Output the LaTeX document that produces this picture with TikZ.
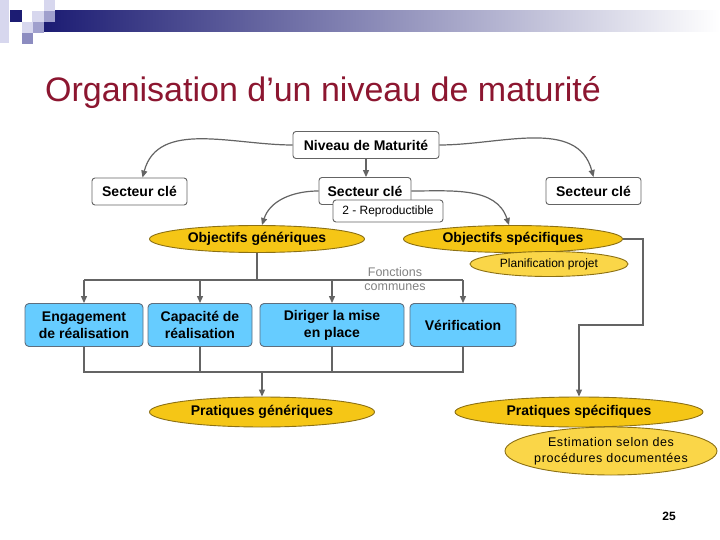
\documentclass[tikz,border=0pt]{standalone}
\usepackage{fontspec}
\setmainfont{Liberation Sans}
\newfontfamily\spacedfont[LetterSpace=5]{Liberation Sans}
\usetikzlibrary{shapes.geometric,arrows.meta}
\definecolor{navy}{RGB}{28,28,115}
\definecolor{sqlight}{RGB}{215,215,238}
\definecolor{sqmid}{RGB}{160,160,205}
\definecolor{titlered}{RGB}{140,22,48}
\definecolor{gold}{RGB}{245,198,22}
\definecolor{goldlight}{RGB}{250,214,72}
\definecolor{goldborder}{RGB}{140,112,20}
\definecolor{skyblue}{RGB}{102,204,255}
\definecolor{boxborder}{RGB}{95,110,125}
\definecolor{connc}{RGB}{100,100,100}
\begin{document}
\begin{tikzpicture}[x=1pt,y=-1pt,
  whitebox/.style={draw=connc,fill=white,rounded corners=3pt,line width=0.9pt,
    inner sep=0pt,font=\fontsize{14}{16}\selectfont\bfseries},
  bluebox/.style={draw=boxborder,fill=skyblue,rounded corners=4pt,line width=0.9pt,
    inner sep=0pt,minimum height=43pt,align=center,font=\fontsize{14}{17}\selectfont\bfseries},
  goldell/.style={ellipse,draw=goldborder,fill=gold,line width=0.9pt,inner sep=0pt,
    font=\fontsize{14}{16}\selectfont\bfseries},
  lightell/.style={ellipse,draw=goldborder,fill=goldlight,line width=0.9pt,inner sep=0pt,
    align=center,font=\fontsize{12.5}{16}\selectfont},
  conn/.style={draw=connc,line width=1.2pt},
  arr/.style={conn,-{Triangle[length=7pt,width=6pt]}}
]
\useasboundingbox (0,0) rectangle (720,540);
\fill[white] (0,0) rectangle (720,540);
% header
\shade[left color=navy,right color=white] (44,11) rectangle (720,32);
\fill[sqlight] (0,0) rectangle (9,43);
\fill[navy] (10,10) rectangle (22,22);
\fill[sqlight] (44,0) rectangle (55,11);
\fill[sqlight] (32,11) rectangle (44,22);
\fill[sqmid] (44,11) rectangle (55,22);
\fill[sqlight] (22,22) rectangle (33,33);
\fill[sqmid] (33,22) rectangle (44,33);
\fill[sqmid!85!navy] (22,33) rectangle (33,44);
% title
\node[anchor=base west,inner sep=0pt,text=titlered,font=\fontsize{34}{36}\selectfont] (title) at (45,102) {Organisation d’un niveau de maturité};
% top boxes
\node[whitebox,minimum width=146pt,minimum height=27pt] (niv) at (366,145) {Niveau de Maturité};
\node[whitebox,minimum width=95pt,minimum height=27pt] (sl) at (139.5,191.5) {Secteur clé};
\node[whitebox,minimum width=92pt,minimum height=27pt] (sm) at (365,191) {Secteur clé};
\node[whitebox,minimum width=95pt,minimum height=27pt] (sr) at (593.5,191) {Secteur clé};
\node[whitebox,minimum width=110pt,minimum height=22pt,font=\fontsize{12}{14}\selectfont] (rep) at (388,211) {2 - Reproductible};
% objectives
\node[goldell,minimum width=215pt,minimum height=27pt] (og) at (257,239) {Objectifs génériques};
\node[goldell,minimum width=219pt,minimum height=27pt] (os) at (513,239) {Objectifs spécifiques};
\node[lightell,minimum width=158pt,minimum height=25pt,font=\fontsize{12}{14}\selectfont] (pp) at (549,264) {Planification projet};
\node[text=connc!80,align=center,font=\fontsize{12.5}{14}\selectfont,inner sep=0pt] (fc) at (395,279) {Fonctions\\communes};
% blue boxes
\node[bluebox,minimum width=118pt] (eng) at (84,325) {Engagement\\de réalisation};
\node[bluebox,minimum width=104pt] (cap) at (200,325) {Capacité de\\réalisation};
\node[bluebox,minimum width=144pt] (dir) at (332,325) {Diriger la mise\\en place};
\node[bluebox,minimum width=106pt] (ver) at (463,325) {Vérification};
% practices
\node[goldell,minimum width=225pt,minimum height=30pt] (pg) at (262,412) {Pratiques génériques};
\node[goldell,minimum width=248pt,minimum height=30pt] (ps) at (579,412) {Pratiques spécifiques};
\node[lightell,minimum width=212pt,minimum height=48pt,inner xsep=-22pt,inner ysep=-4pt,font=\fontsize{12.5}{16}\spacedfont] (est) at (611,451) {Estimation selon des\\procédures documentées};
% page number
\node[font=\fontsize{12}{13}\selectfont\bfseries,inner sep=0pt] (pn) at (669,516) {25};
% connectors top
\draw[arr] (niv.west) to[out=180,in=75] ([xshift=3pt]sl.north);
\draw[arr] (niv.south) -- (niv.south |- sm.north);
\draw[arr] (niv.east) to[out=0,in=105] (sr.north);
\draw[arr] (sm.west) to[out=180,in=72] ([xshift=5pt]og.north);
\draw[arr] (sm.east) to[out=0,in=108] ([xshift=-4pt]os.north);
% tree to blue boxes
\coordinate (t1) at (257,280);
\draw[conn] (og.south) -- (t1);
\draw[conn] (eng.north |- t1) -- (ver.north |- t1);
\draw[arr] (eng.north |- t1) -- (eng.north);
\draw[arr] (cap.north |- t1) -- (cap.north);
\draw[arr] (dir.north |- t1) -- (dir.north);
\draw[arr] (ver.north |- t1) -- (ver.north);
% tree from blue boxes
\coordinate (b1) at (262,372);
\draw[conn] (eng.south) -- (eng.south |- b1) -- (ver.south |- b1) -- (ver.south);
\draw[conn] (cap.south) -- (cap.south |- b1);
\draw[conn] (dir.south) -- (dir.south |- b1);
\draw[arr] (b1) -- (pg.north);
% right connector
\coordinate (r1) at (643,239);
\coordinate (r2) at (643,325);
\draw[arr] (os.east) -- (r1) |- (ps.north |- r2) -- (ps.north);
\end{tikzpicture}
\end{document}
